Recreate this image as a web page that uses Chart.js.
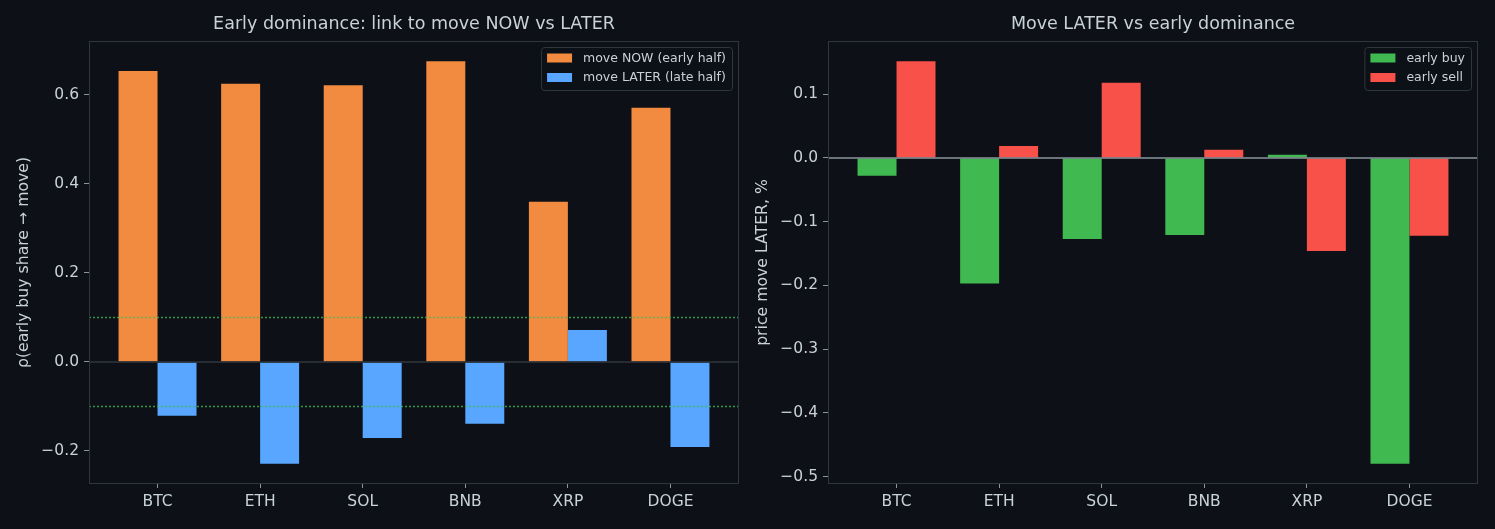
<!DOCTYPE html>
<html>
<head>
<meta charset="utf-8">
<script src="https://cdn.jsdelivr.net/npm/chart.js@4"></script>
<style>
  html, body { margin: 0; padding: 0; background: #0d1117; }
  .wrap { position: absolute; top: 0; height: 529px; }
  #w1 { left: 0; width: 750px; }
  #w2 { left: 750px; width: 745px; }
</style>
</head>
<body>
<div class="wrap" id="w1"><canvas id="c1"></canvas></div>
<div class="wrap" id="w2"><canvas id="c2"></canvas></div>
<script>
// --- дані ---
const coins = ['BTC', 'ETH', 'SOL', 'BNB', 'XRP', 'DOGE'];
const moveNow = [0.654, 0.625, 0.622, 0.676, 0.360, 0.571];
const moveLater = [-0.121, -0.229, -0.171, -0.139, 0.072, -0.191];
const earlyBuy = [-0.028, -0.197, -0.127, -0.121, 0.005, -0.480];
const earlySell = [0.152, 0.019, 0.118, 0.013, -0.146, -0.122];
const leftTicks = [-0.2, 0.0, 0.2, 0.4, 0.6];
const rightTicks = [-0.5, -0.4, -0.3, -0.2, -0.1, 0.0, 0.1];
const refLines = [0.1, -0.1];

const TXT = '#c9d1d9';
const FRAME = '#30363d';
const FONT = 'DejaVu Sans';
const idx = coins.map((_, i) => i);

// межі осі як у matplotlib (5% запасу)
function limits(vals) {
  const lo = Math.min(0, ...vals), hi = Math.max(0, ...vals);
  const m = (hi - lo) * 0.05;
  return [lo - m, hi + m];
}
const xLo = -0.38 - 5.76 * 0.05, xHi = 5.38 + 5.76 * 0.05;

const fmt = v => v.toFixed(1).replace('-', '\u2212');

// рамка, лінії та легенда
const extras = {
  id: 'extras',
  afterDatasetsDraw(chart, args, o) {
    const { ctx, chartArea: a, scales: { y } } = chart;
    ctx.save();
    // нульова лінія
    const y0 = y.getPixelForValue(0);
    ctx.strokeStyle = o.zeroColor;
    ctx.lineWidth = 1.5;
    ctx.beginPath(); ctx.moveTo(a.left, y0); ctx.lineTo(a.right, y0); ctx.stroke();
    // пунктир
    (o.refs || []).forEach(v => {
      const py = Math.round(y.getPixelForValue(v)) + 0.5;
      ctx.strokeStyle = 'rgba(63,185,80,0.8)';
      ctx.lineWidth = 1.4;
      ctx.setLineDash([2, 2]);
      ctx.beginPath(); ctx.moveTo(a.left, py); ctx.lineTo(a.right, py); ctx.stroke();
    });
    ctx.setLineDash([]);
    // рамка
    ctx.strokeStyle = FRAME;
    ctx.lineWidth = 1;
    ctx.strokeRect(a.left + 0.5, a.top + 0.5, a.right - a.left - 1, a.bottom - a.top - 1);
    // легенда
    ctx.font = '12.5px ' + FONT;
    const items = chart.data.datasets;
    const tw = Math.max(...items.map(d => ctx.measureText(d.label).width));
    const w = 6 + 25 + 11 + tw + 6, h = 43;
    const bx = a.right - 7 - w, by = a.top + 6;
    ctx.fillStyle = 'rgba(13,17,23,0.85)';
    ctx.strokeStyle = FRAME;
    ctx.beginPath(); ctx.roundRect(bx + 0.5, by + 0.5, w, h, 3); ctx.fill(); ctx.stroke();
    items.forEach((d, i) => {
      const cy = by + 11 + i * 19.5;
      ctx.fillStyle = d.backgroundColor;
      ctx.fillRect(bx + 6, cy - 4.5, 25, 9);
      ctx.fillStyle = TXT;
      ctx.textBaseline = 'middle';
      ctx.fillText(d.label, bx + 6 + 25 + 11, cy + 0.5);
    });
    ctx.restore();
  }
};

function makeChart(id, title, yTitle, sets, ticks, yW, padRight, yTitlePad, zeroColor, refs) {
  const all = sets.flatMap(s => s.data);
  const [yLo, yHi] = limits(all);
  return new Chart(document.getElementById(id), {
    type: 'bar',
    data: {
      labels: idx,
      datasets: sets.map(s => ({
        label: s.label,
        data: s.data,
        backgroundColor: s.color,
        borderWidth: 0,
        categoryPercentage: 0.76,
        barPercentage: 1.0
      }))
    },
    options: {
      responsive: true,
      maintainAspectRatio: false,
      animation: false,
      layout: { padding: { left: 0, right: padRight, top: 0, bottom: 0 } },
      plugins: {
        legend: { display: false },
        tooltip: { enabled: false },
        title: {
          display: true, text: title, color: TXT, fullSize: false,
          font: { family: FONT, size: 17.5, weight: 'normal' },
          padding: { top: 14, bottom: 6 }
        },
        extras: { zeroColor: zeroColor, refs: refs }
      },
      scales: {
        x: {
          type: 'linear', min: xLo, max: xHi, offset: false,
          afterBuildTicks: s => { s.ticks = idx.map(v => ({ value: v })); },
          afterFit: s => { s.height = 45; },
          grid: { offset: false, drawOnChartArea: false, drawTicks: true, tickLength: 4, tickColor: '#8b949e' },
          border: { display: false },
          ticks: {
            color: TXT, padding: 5, maxRotation: 0,
            font: { family: FONT, size: 15.5 },
            callback: v => coins[v]
          }
        },
        y: {
          min: yLo, max: yHi,
          afterBuildTicks: s => { s.ticks = ticks.map(v => ({ value: v })); },
          afterFit: s => { s.width = yW; },
          grid: { drawOnChartArea: false, drawTicks: true, tickLength: 5, tickColor: '#8b949e' },
          border: { display: false },
          ticks: { color: TXT, padding: 5, font: { family: FONT, size: 15.5 }, callback: v => fmt(v) },
          title: {
            display: true, text: yTitle, color: TXT,
            font: { family: FONT, size: 15.7 },
            padding: { top: yTitlePad, bottom: 0 }
          }
        }
      }
    },
    plugins: [extras]
  });
}

makeChart('c1', 'Early dominance: link to move NOW vs LATER', '\u03c1(early buy share \u2192 move)',
  [{ label: 'move NOW (early half)', data: moveNow, color: '#f28b40' },
   { label: 'move LATER (late half)', data: moveLater, color: '#58a6ff' }],
  leftTicks, 89, 11, 15, '#30363d', refLines);

makeChart('c2', 'Move LATER vs early dominance', 'price move LATER, %',
  [{ label: 'early buy', data: earlyBuy, color: '#3fb950' },
   { label: 'early sell', data: earlySell, color: '#f85149' }],
  rightTicks, 78, 17, 4, '#8b949e', []);
</script>
</body>
</html>
